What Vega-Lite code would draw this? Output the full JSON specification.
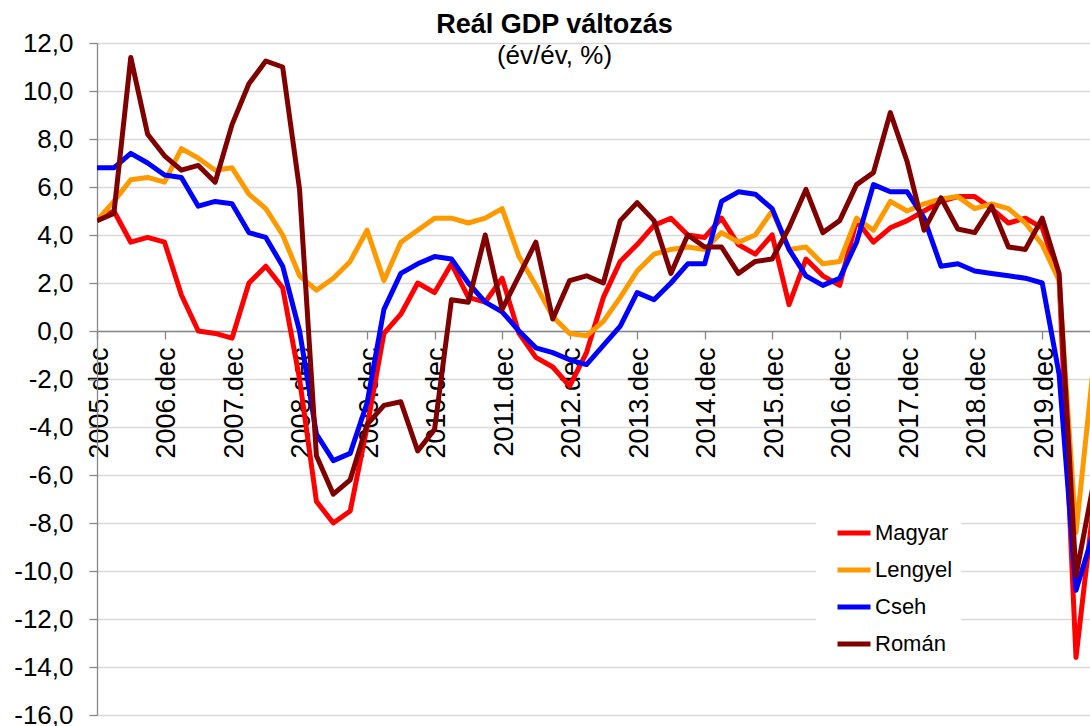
{
"$schema": "https://vega.github.io/schema/vega-lite/v6.json",
"width": 993, "height": 672,
"autosize": {"type": "none"},
"padding": {"left": 97, "top": 43, "right": 0, "bottom": 11},
"background": "white",
"title": {"text": "Reál GDP változás", "subtitle": "(év/év, %)", "anchor": "middle", "frame": "group", "dx": -39, "offset": -40, "font": "Liberation Sans", "fontSize": 27, "fontWeight": "bold", "color": "#000000", "subtitleFont": "Liberation Sans", "subtitleFontSize": 26, "subtitleColor": "#000000", "subtitlePadding": 4},
"datasets": {
"gdp": [
{"q":0,"orszag":"Magyar","value":4.6},{"q":1,"orszag":"Magyar","value":5.0},{"q":2,"orszag":"Magyar","value":3.7},{"q":3,"orszag":"Magyar","value":3.9},{"q":4,"orszag":"Magyar","value":3.7},{"q":5,"orszag":"Magyar","value":1.5},{"q":6,"orszag":"Magyar","value":0.0},{"q":7,"orszag":"Magyar","value":-0.1},{"q":8,"orszag":"Magyar","value":-0.3},{"q":9,"orszag":"Magyar","value":2.0},{"q":10,"orszag":"Magyar","value":2.7},{"q":11,"orszag":"Magyar","value":1.8},{"q":12,"orszag":"Magyar","value":-2.0},{"q":13,"orszag":"Magyar","value":-7.1},{"q":14,"orszag":"Magyar","value":-8.0},{"q":15,"orszag":"Magyar","value":-7.5},{"q":16,"orszag":"Magyar","value":-4.0},{"q":17,"orszag":"Magyar","value":-0.1},{"q":18,"orszag":"Magyar","value":0.7},{"q":19,"orszag":"Magyar","value":2.0},{"q":20,"orszag":"Magyar","value":1.6},{"q":21,"orszag":"Magyar","value":2.8},{"q":22,"orszag":"Magyar","value":1.4},{"q":23,"orszag":"Magyar","value":1.2},{"q":24,"orszag":"Magyar","value":2.2},{"q":25,"orszag":"Magyar","value":-0.1},{"q":26,"orszag":"Magyar","value":-1.1},{"q":27,"orszag":"Magyar","value":-1.5},{"q":28,"orszag":"Magyar","value":-2.3},{"q":29,"orszag":"Magyar","value":-0.9},{"q":30,"orszag":"Magyar","value":1.4},{"q":31,"orszag":"Magyar","value":2.9},{"q":32,"orszag":"Magyar","value":3.6},{"q":33,"orszag":"Magyar","value":4.4},{"q":34,"orszag":"Magyar","value":4.7},{"q":35,"orszag":"Magyar","value":4.0},{"q":36,"orszag":"Magyar","value":3.9},{"q":37,"orszag":"Magyar","value":4.7},{"q":38,"orszag":"Magyar","value":3.6},{"q":39,"orszag":"Magyar","value":3.2},{"q":40,"orszag":"Magyar","value":4.0},{"q":41,"orszag":"Magyar","value":1.1},{"q":42,"orszag":"Magyar","value":3.0},{"q":43,"orszag":"Magyar","value":2.3},{"q":44,"orszag":"Magyar","value":1.9},{"q":45,"orszag":"Magyar","value":4.6},{"q":46,"orszag":"Magyar","value":3.7},{"q":47,"orszag":"Magyar","value":4.3},{"q":48,"orszag":"Magyar","value":4.6},{"q":49,"orszag":"Magyar","value":5.0},{"q":50,"orszag":"Magyar","value":5.4},{"q":51,"orszag":"Magyar","value":5.6},{"q":52,"orszag":"Magyar","value":5.6},{"q":53,"orszag":"Magyar","value":5.1},{"q":54,"orszag":"Magyar","value":4.5},{"q":55,"orszag":"Magyar","value":4.7},{"q":56,"orszag":"Magyar","value":4.3},{"q":57,"orszag":"Magyar","value":2.2},{"q":58,"orszag":"Magyar","value":-13.6},{"q":59,"orszag":"Magyar","value":-7.5},
{"q":0,"orszag":"Lengyel","value":4.6},{"q":1,"orszag":"Lengyel","value":5.4},{"q":2,"orszag":"Lengyel","value":6.3},{"q":3,"orszag":"Lengyel","value":6.4},{"q":4,"orszag":"Lengyel","value":6.2},{"q":5,"orszag":"Lengyel","value":7.6},{"q":6,"orszag":"Lengyel","value":7.2},{"q":7,"orszag":"Lengyel","value":6.7},{"q":8,"orszag":"Lengyel","value":6.8},{"q":9,"orszag":"Lengyel","value":5.7},{"q":10,"orszag":"Lengyel","value":5.1},{"q":11,"orszag":"Lengyel","value":4.0},{"q":12,"orszag":"Lengyel","value":2.3},{"q":13,"orszag":"Lengyel","value":1.7},{"q":14,"orszag":"Lengyel","value":2.2},{"q":15,"orszag":"Lengyel","value":2.9},{"q":16,"orszag":"Lengyel","value":4.2},{"q":17,"orszag":"Lengyel","value":2.1},{"q":18,"orszag":"Lengyel","value":3.7},{"q":19,"orszag":"Lengyel","value":4.2},{"q":20,"orszag":"Lengyel","value":4.7},{"q":21,"orszag":"Lengyel","value":4.7},{"q":22,"orszag":"Lengyel","value":4.5},{"q":23,"orszag":"Lengyel","value":4.7},{"q":24,"orszag":"Lengyel","value":5.1},{"q":25,"orszag":"Lengyel","value":3.1},{"q":26,"orszag":"Lengyel","value":1.9},{"q":27,"orszag":"Lengyel","value":0.6},{"q":28,"orszag":"Lengyel","value":-0.1},{"q":29,"orszag":"Lengyel","value":-0.2},{"q":30,"orszag":"Lengyel","value":0.4},{"q":31,"orszag":"Lengyel","value":1.4},{"q":32,"orszag":"Lengyel","value":2.5},{"q":33,"orszag":"Lengyel","value":3.2},{"q":34,"orszag":"Lengyel","value":3.4},{"q":35,"orszag":"Lengyel","value":3.5},{"q":36,"orszag":"Lengyel","value":3.4},{"q":37,"orszag":"Lengyel","value":4.1},{"q":38,"orszag":"Lengyel","value":3.7},{"q":39,"orszag":"Lengyel","value":4.0},{"q":40,"orszag":"Lengyel","value":5.0},{"q":41,"orszag":"Lengyel","value":3.4},{"q":42,"orszag":"Lengyel","value":3.5},{"q":43,"orszag":"Lengyel","value":2.8},{"q":44,"orszag":"Lengyel","value":2.9},{"q":45,"orszag":"Lengyel","value":4.7},{"q":46,"orszag":"Lengyel","value":4.2},{"q":47,"orszag":"Lengyel","value":5.4},{"q":48,"orszag":"Lengyel","value":5.0},{"q":49,"orszag":"Lengyel","value":5.3},{"q":50,"orszag":"Lengyel","value":5.5},{"q":51,"orszag":"Lengyel","value":5.6},{"q":52,"orszag":"Lengyel","value":5.1},{"q":53,"orszag":"Lengyel","value":5.3},{"q":54,"orszag":"Lengyel","value":5.1},{"q":55,"orszag":"Lengyel","value":4.5},{"q":56,"orszag":"Lengyel","value":3.6},{"q":57,"orszag":"Lengyel","value":2.1},{"q":58,"orszag":"Lengyel","value":-8.4},{"q":59,"orszag":"Lengyel","value":-1.7},
{"q":0,"orszag":"Cseh","value":6.8},{"q":1,"orszag":"Cseh","value":6.8},{"q":2,"orszag":"Cseh","value":7.4},{"q":3,"orszag":"Cseh","value":7.0},{"q":4,"orszag":"Cseh","value":6.5},{"q":5,"orszag":"Cseh","value":6.4},{"q":6,"orszag":"Cseh","value":5.2},{"q":7,"orszag":"Cseh","value":5.4},{"q":8,"orszag":"Cseh","value":5.3},{"q":9,"orszag":"Cseh","value":4.1},{"q":10,"orszag":"Cseh","value":3.9},{"q":11,"orszag":"Cseh","value":2.7},{"q":12,"orszag":"Cseh","value":0.0},{"q":13,"orszag":"Cseh","value":-4.3},{"q":14,"orszag":"Cseh","value":-5.4},{"q":15,"orszag":"Cseh","value":-5.1},{"q":16,"orszag":"Cseh","value":-3.0},{"q":17,"orszag":"Cseh","value":0.9},{"q":18,"orszag":"Cseh","value":2.4},{"q":19,"orszag":"Cseh","value":2.8},{"q":20,"orszag":"Cseh","value":3.1},{"q":21,"orszag":"Cseh","value":3.0},{"q":22,"orszag":"Cseh","value":2.0},{"q":23,"orszag":"Cseh","value":1.2},{"q":24,"orszag":"Cseh","value":0.8},{"q":25,"orszag":"Cseh","value":0.0},{"q":26,"orszag":"Cseh","value":-0.7},{"q":27,"orszag":"Cseh","value":-0.9},{"q":28,"orszag":"Cseh","value":-1.2},{"q":29,"orszag":"Cseh","value":-1.4},{"q":30,"orszag":"Cseh","value":-0.6},{"q":31,"orszag":"Cseh","value":0.2},{"q":32,"orszag":"Cseh","value":1.6},{"q":33,"orszag":"Cseh","value":1.3},{"q":34,"orszag":"Cseh","value":2.0},{"q":35,"orszag":"Cseh","value":2.8},{"q":36,"orszag":"Cseh","value":2.8},{"q":37,"orszag":"Cseh","value":5.4},{"q":38,"orszag":"Cseh","value":5.8},{"q":39,"orszag":"Cseh","value":5.7},{"q":40,"orszag":"Cseh","value":5.1},{"q":41,"orszag":"Cseh","value":3.4},{"q":42,"orszag":"Cseh","value":2.3},{"q":43,"orszag":"Cseh","value":1.9},{"q":44,"orszag":"Cseh","value":2.2},{"q":45,"orszag":"Cseh","value":3.7},{"q":46,"orszag":"Cseh","value":6.1},{"q":47,"orszag":"Cseh","value":5.8},{"q":48,"orszag":"Cseh","value":5.8},{"q":49,"orszag":"Cseh","value":4.7},{"q":50,"orszag":"Cseh","value":2.7},{"q":51,"orszag":"Cseh","value":2.8},{"q":52,"orszag":"Cseh","value":2.5},{"q":53,"orszag":"Cseh","value":2.4},{"q":54,"orszag":"Cseh","value":2.3},{"q":55,"orszag":"Cseh","value":2.2},{"q":56,"orszag":"Cseh","value":2.0},{"q":57,"orszag":"Cseh","value":-1.8},{"q":58,"orszag":"Cseh","value":-10.8},{"q":59,"orszag":"Cseh","value":-8.5},
{"q":0,"orszag":"Román","value":4.6},{"q":1,"orszag":"Román","value":4.9},{"q":2,"orszag":"Román","value":11.4},{"q":3,"orszag":"Román","value":8.2},{"q":4,"orszag":"Román","value":7.3},{"q":5,"orszag":"Román","value":6.7},{"q":6,"orszag":"Román","value":6.9},{"q":7,"orszag":"Román","value":6.2},{"q":8,"orszag":"Román","value":8.6},{"q":9,"orszag":"Román","value":10.3},{"q":10,"orszag":"Román","value":11.25},{"q":11,"orszag":"Román","value":11.0},{"q":12,"orszag":"Román","value":5.9},{"q":13,"orszag":"Román","value":-5.2},{"q":14,"orszag":"Román","value":-6.8},{"q":15,"orszag":"Román","value":-6.2},{"q":16,"orszag":"Román","value":-3.9},{"q":17,"orszag":"Román","value":-3.1},{"q":18,"orszag":"Román","value":-2.95},{"q":19,"orszag":"Román","value":-5.0},{"q":20,"orszag":"Román","value":-4.1},{"q":21,"orszag":"Román","value":1.3},{"q":22,"orszag":"Román","value":1.2},{"q":23,"orszag":"Román","value":4.0},{"q":24,"orszag":"Román","value":0.9},{"q":25,"orszag":"Román","value":2.3},{"q":26,"orszag":"Román","value":3.7},{"q":27,"orszag":"Román","value":0.5},{"q":28,"orszag":"Román","value":2.1},{"q":29,"orszag":"Román","value":2.3},{"q":30,"orszag":"Román","value":2.0},{"q":31,"orszag":"Román","value":4.6},{"q":32,"orszag":"Román","value":5.35},{"q":33,"orszag":"Román","value":4.6},{"q":34,"orszag":"Román","value":2.4},{"q":35,"orszag":"Román","value":4.0},{"q":36,"orszag":"Román","value":3.5},{"q":37,"orszag":"Román","value":3.5},{"q":38,"orszag":"Román","value":2.4},{"q":39,"orszag":"Román","value":2.9},{"q":40,"orszag":"Román","value":3.0},{"q":41,"orszag":"Román","value":4.3},{"q":42,"orszag":"Román","value":5.9},{"q":43,"orszag":"Román","value":4.1},{"q":44,"orszag":"Román","value":4.6},{"q":45,"orszag":"Román","value":6.1},{"q":46,"orszag":"Román","value":6.6},{"q":47,"orszag":"Román","value":9.1},{"q":48,"orszag":"Román","value":7.05},{"q":49,"orszag":"Román","value":4.2},{"q":50,"orszag":"Román","value":5.55},{"q":51,"orszag":"Román","value":4.25},{"q":52,"orszag":"Román","value":4.1},{"q":53,"orszag":"Román","value":5.2},{"q":54,"orszag":"Román","value":3.5},{"q":55,"orszag":"Román","value":3.4},{"q":56,"orszag":"Román","value":4.7},{"q":57,"orszag":"Román","value":2.4},{"q":58,"orszag":"Román","value":-10.2},{"q":59,"orszag":"Román","value":-6.5}
]
},
"data": {"name": "gdp"},
"mark": {"type": "line", "strokeWidth": 5, "strokeJoin": "round", "clip": true},
"encoding": {
"x": {"field": "q", "type": "quantitative",
 "scale": {"domain": [0, 58.83], "nice": false, "zero": false},
 "axis": {"title": null, "values": [0,4,8,12,16,20,24,28,32,36,40,44,48,52,56], "labelExpr": "toString(2005 + datum.value / 4) + '.dec'", "offset": -384, "domainColor": "#878787", "domainWidth": 1.3, "tickColor": "#878787", "tickSize": 8, "tickWidth": 1.3, "labelAngle": 270, "labelFont": "Liberation Sans", "labelFontSize": 27, "labelColor": "#000000", "labelPadding": 8, "labelOffset": 2, "grid": false, "labelOverlap": false, "labelBound": false, "labelFlush": false}},
"y": {"field": "value", "type": "quantitative",
 "scale": {"domain": [-16, 12], "nice": false, "zero": false},
 "axis": {"title": null, "values": [-16,-14,-12,-10,-8,-6,-4,-2,0,2,4,6,8,10,12], "labelExpr": "replace(replace(format(datum.value, '.1f'), '.', ','), '\u2212', '-')", "domainColor": "#878787", "domainWidth": 1.3, "tickColor": "#878787", "tickSize": 8, "tickWidth": 1.3, "labelFont": "Liberation Sans", "labelFontSize": 26, "labelColor": "#000000", "labelPadding": 16, "grid": true, "gridColor": "#D9D9D9", "gridWidth": 1.3, "labelFlush": false, "labelOverlap": false}},
"color": {"field": "orszag", "type": "nominal",
 "scale": {"domain": ["Magyar", "Lengyel", "Cseh", "Román"], "range": ["#FF0000", "#FF9900", "#0000FF", "#800000"]},
 "legend": {"title": null, "orient": "none", "legendX": 719, "legendY": 463, "fillColor": "white", "padding": 8, "symbolType": "stroke", "symbolStrokeWidth": 5, "symbolSize": 1089, "labelFont": "Liberation Sans", "labelFontSize": 22, "labelColor": "#000000", "rowPadding": 7, "symbolOffset": 11, "labelOffset": 2}}
},
"config": {"view": {"stroke": null}}
}
